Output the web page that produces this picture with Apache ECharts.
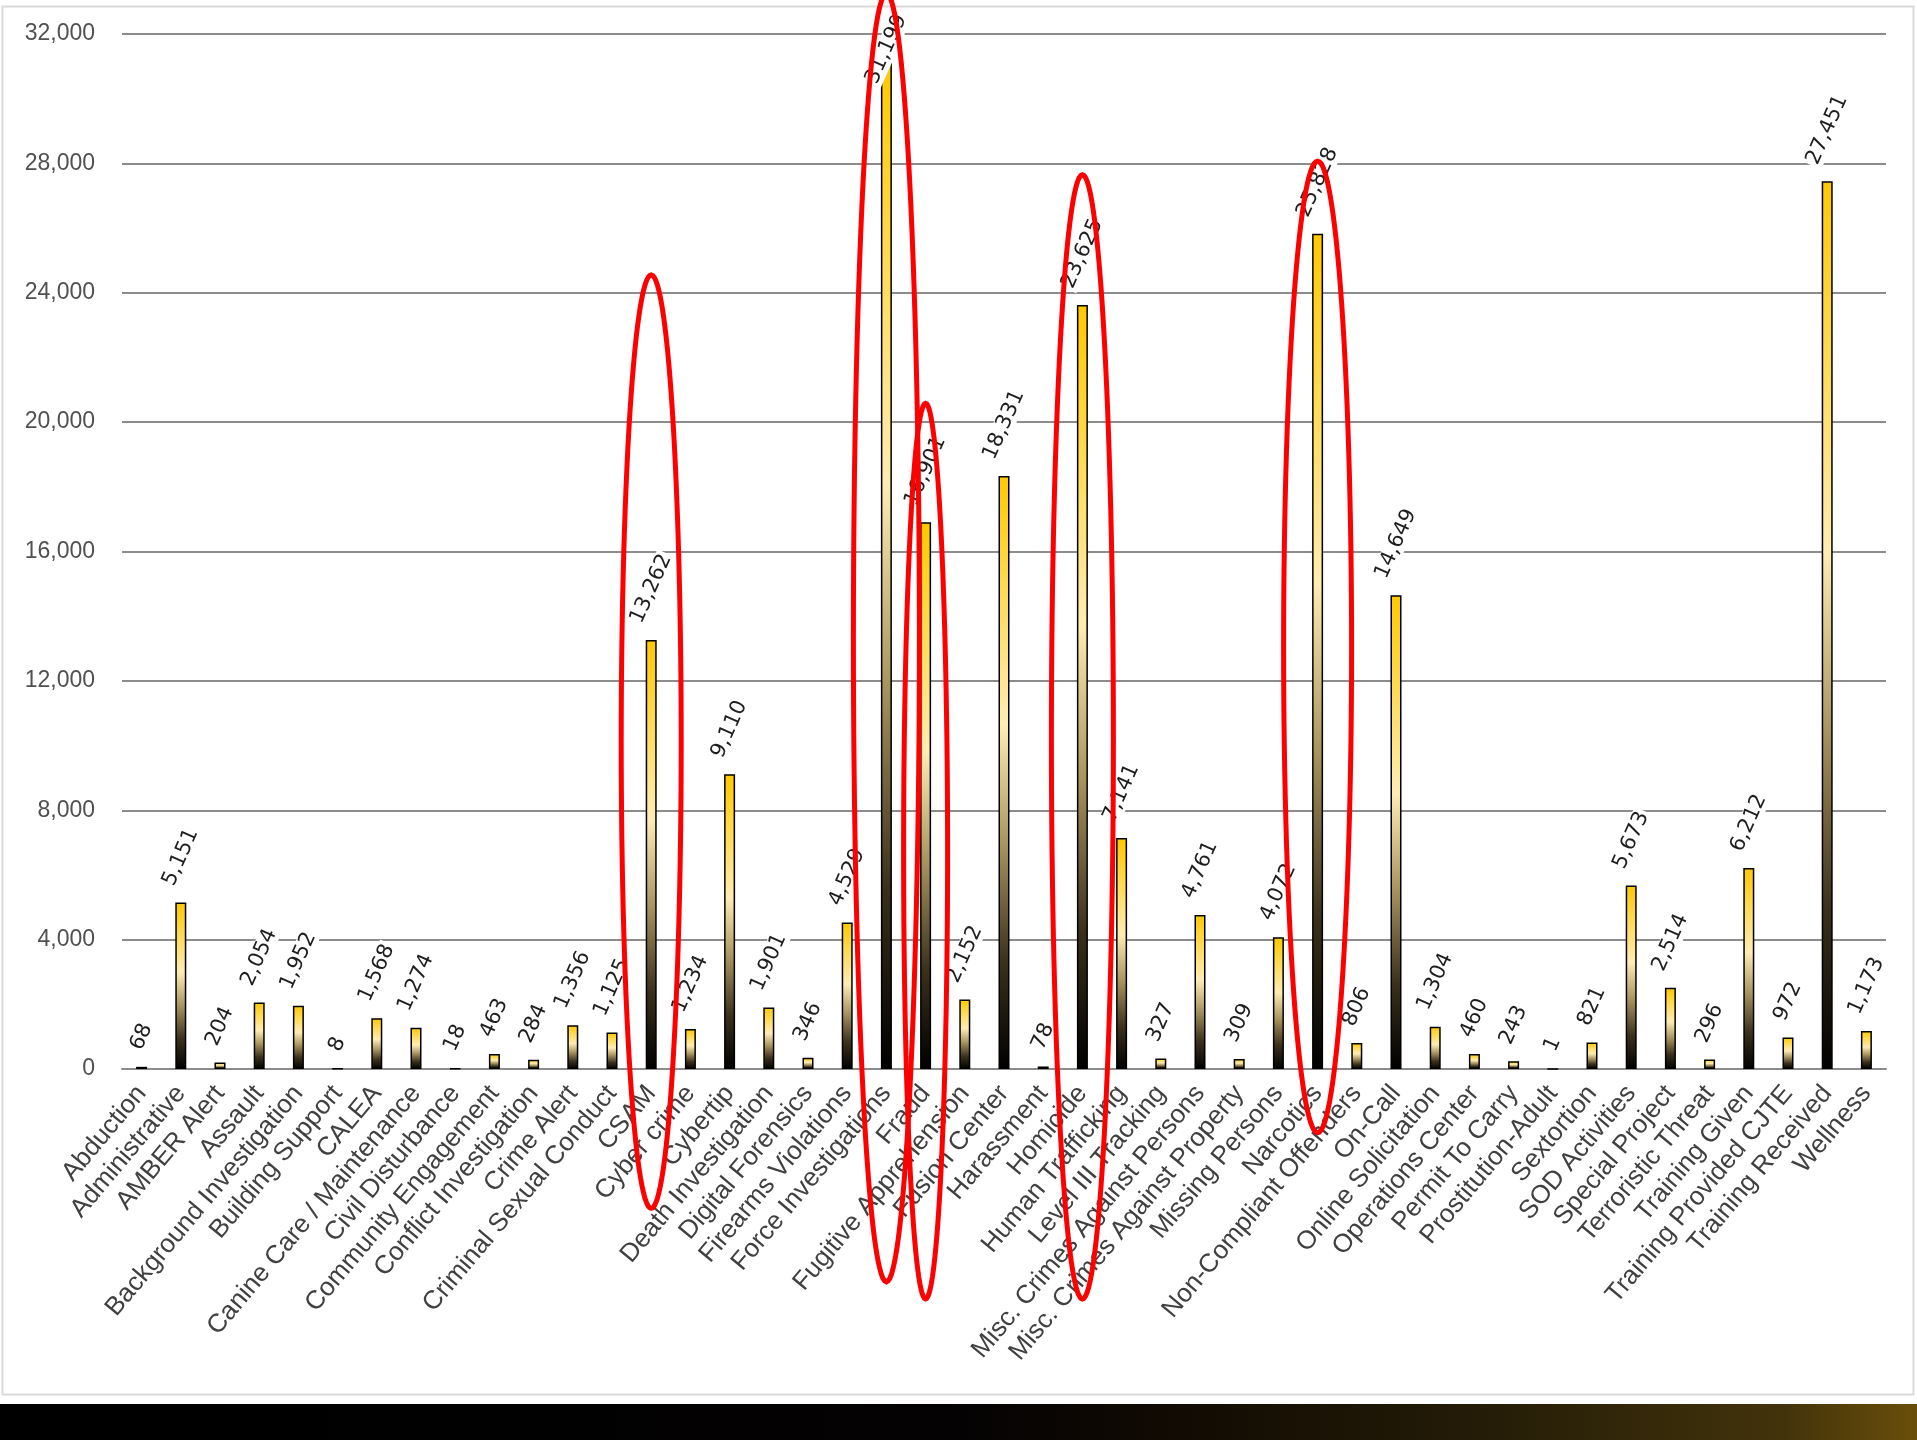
<!DOCTYPE html>
<html>
<head>
<meta charset="utf-8">
<script src="https://cdn.jsdelivr.net/npm/echarts@6/dist/echarts.min.js"></script>
<style>
html,body{margin:0;padding:0;background:#ffffff;}
#chart{width:1917px;height:1440px;}
</style>
</head>
<body>
<div id="chart"></div>
<script>
// ---- data ----
const categories = [
  'Abduction','Administrative','AMBER Alert','Assault','Background Investigation',
  'Building Support','CALEA','Canine Care / Maintenance','Civil Disturbance','Community Engagement',
  'Conflict Investigation','Crime Alert','Criminal Sexual Conduct','CSAM','Cyber crime',
  'Cybertip','Death Investigation','Digital Forensics','Firearms Violations','Force Investigations',
  'Fraud','Fugitive Apprehension','Fusion Center','Harassment','Homicide',
  'Human Trafficking','Level III Tracking','Misc. Crimes Against Persons','Misc. Crimes Against Property','Missing Persons',
  'Narcotics','Non-Compliant Offenders','On-Call','Online Solicitation','Operations Center',
  'Permit To Carry','Prostitution-Adult','Sextortion','SOD Activities','Special Project',
  'Terroristic Threat','Training Given','Training Provided CJTE','Training Received','Wellness'
];
const values = [
  68, 5151, 204, 2054, 1952,
  8, 1568, 1274, 18, 463,
  284, 1356, 1125, 13262, 1234,
  9110, 1901, 346, 4529, 31199,
  16901, 2152, 18331, 78, 23625,
  7141, 327, 4761, 309, 4072,
  25828, 806, 14649, 1304, 460,
  243, 1, 821, 5673, 2514,
  296, 6212, 972, 27451, 1173
];
const yTicks = [0, 4000, 8000, 12000, 16000, 20000, 24000, 28000, 32000];

// hand-drawn red ellipse annotations (category, top value, bottom value)
const ringCats   = ['CSAM', 'Force Investigations', 'Fraud', 'Homicide', 'Narcotics'];
const ringTop    = [24550, 33250, 20580, 27650, 28070];
const ringBottom = [-4310, -6580, -7110, -7110, -1970];

// ---- styling helpers ----
const LABEL_FONT = '"DejaVu Sans"';
const LABEL_SIZE = 21;
const LABEL_ROT = 66;
const fmt = v => v.toLocaleString('en-US');

const cvs = document.createElement('canvas');
const ctx = cvs.getContext('2d');
ctx.font = LABEL_SIZE + 'px ' + LABEL_FONT;
const rad = LABEL_ROT * Math.PI / 180;

const barGradient = new echarts.graphic.LinearGradient(0, 0, 0, 1, [
  {offset: 0, color: '#FFC800'},
  {offset: 0.18, color: '#FFD94D'},
  {offset: 0.42, color: '#FFECB3'},
  {offset: 0.62, color: '#A8945F'},
  {offset: 0.82, color: '#3A301C'},
  {offset: 1, color: '#000000'}
]);

const halfHeights = values.map(v => {
  const w = ctx.measureText(fmt(v)).width + 4;
  const h = LABEL_SIZE * 0.9;
  return (w * Math.sin(rad) + h * Math.cos(rad)) / 2;
});
const seriesData = values.map((v, i) => ({value: v, label: {distance: 12 + halfHeights[i]}}));

const chart = echarts.init(document.getElementById('chart'), null, {renderer: 'canvas'});

const baseGraphic = [
  {id: 'frame', type: 'rect', z: -10, silent: true,
   shape: {x: 2.5, y: 6.5, width: 1911, height: 1388},
   style: {fill: '#ffffff', stroke: '#d9d9d9', lineWidth: 2}},
  {id: 'band', type: 'rect', z: -10, silent: true,
   shape: {x: 0, y: 1404, width: 1917, height: 36},
   style: {fill: new echarts.graphic.LinearGradient(0, 0, 1, 0, [
     {offset: 0, color: '#000000'},
     {offset: 0.5, color: '#040203'},
     {offset: 0.62, color: '#120b03'},
     {offset: 0.78, color: '#251d07'},
     {offset: 0.93, color: '#42330b'},
     {offset: 1, color: '#6a4e0a'}
   ])}}
];

const option = {
  backgroundColor: '#ffffff',
  animation: false,
  grid: {left: 122, right: 31, top: 34, bottom: 371, containLabel: false},
  xAxis: {
    type: 'category',
    data: categories,
    axisLine: {show: true, lineStyle: {color: '#8c8c8c', width: 2}},
    axisTick: {show: false},
    axisLabel: {
      interval: 0, rotate: 50, margin: 20,
      fontFamily: '"Liberation Sans"', fontSize: 26, color: '#404040'
    }
  },
  yAxis: {
    type: 'value',
    min: 0, max: 32000, interval: 4000,
    axisLine: {show: false},
    axisTick: {show: false},
    splitLine: {lineStyle: {color: '#8c8c8c', width: 2}},
    axisLabel: {
      margin: 27, fontFamily: '"Liberation Sans"', fontSize: 23, color: '#505050',
      formatter: v => fmt(v)
    }
  },
  series: [{
    type: 'bar',
    data: seriesData,
    barWidth: 11,
    itemStyle: {color: barGradient, borderColor: '#000000', borderWidth: 1.5},
    label: {
      show: true, position: 'top', rotate: LABEL_ROT,
      align: 'center', verticalAlign: 'middle',
      fontFamily: LABEL_FONT, fontSize: LABEL_SIZE, color: '#1e1e1e',
      backgroundColor: '#ffffff', padding: [0, 2],
      formatter: p => fmt(p.value)
    },
    z: 3
  }],
  graphic: baseGraphic
};
chart.setOption(option);

// keep labels inside the chart frame (as the spreadsheet does): clamp at top
const FRAME_TOP = 10;
const clamped = values.map((v, i) => {
  const topPx = chart.convertToPixel({yAxisIndex: 0}, v);
  let d = 12 + halfHeights[i];
  if (topPx - d - halfHeights[i] < FRAME_TOP) d = topPx - FRAME_TOP - halfHeights[i];
  return {value: v, label: {distance: d}};
});

// red ellipse annotations positioned from data coordinates
const ringHalfWidth = [30, 33, 22, 31, 34];
const rings = ringCats.map((c, i) => {
  const top = chart.convertToPixel({xAxisIndex: 0, yAxisIndex: 0}, [c, ringTop[i]]);
  const bot = chart.convertToPixel({xAxisIndex: 0, yAxisIndex: 0}, [c, ringBottom[i]]);
  const cx = top[0], cy = (top[1] + bot[1]) / 2, ry = (bot[1] - top[1]) / 2, rx = ringHalfWidth[i];
  const pts = [];
  for (let k = 0; k < 120; k++) {
    const t = k / 120 * Math.PI * 2;
    pts.push([cx + rx * Math.cos(t), cy + ry * Math.sin(t)]);
  }
  return {id: 'ring' + i, type: 'polygon', z: 100, silent: true,
          shape: {points: pts}, style: {fill: 'none', stroke: '#ff0000', lineWidth: 5}};
});
chart.setOption({series: [{data: clamped}], graphic: baseGraphic.concat(rings)});
</script>
</body>
</html>
